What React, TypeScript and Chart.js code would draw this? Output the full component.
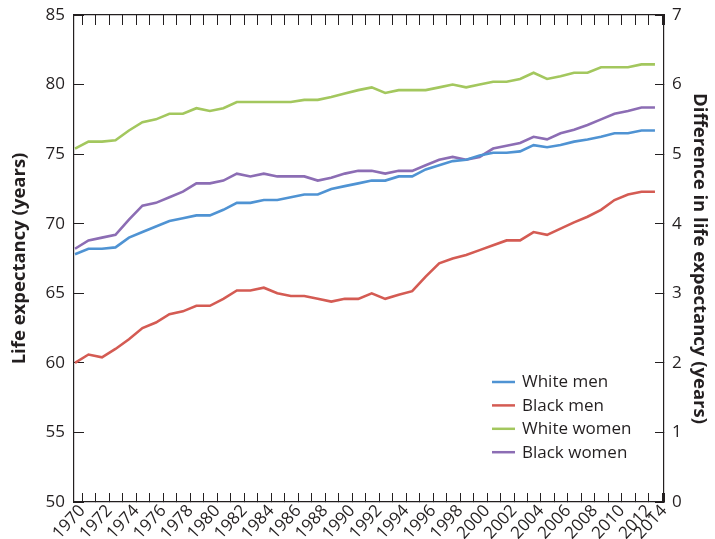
import React, { useEffect, useRef } from 'react';
import { Chart, registerables } from 'chart.js';

Chart.register(...registerables);

// ---- data ----
const years = [
  1970, 1971, 1972, 1973, 1974, 1975, 1976, 1977, 1978, 1979,
  1980, 1981, 1982, 1983, 1984, 1985, 1986, 1987, 1988, 1989,
  1990, 1991, 1992, 1993, 1994, 1995, 1996, 1997, 1998, 1999,
  2000, 2001, 2002, 2003, 2004, 2005, 2006, 2007, 2008, 2009,
  2010, 2011, 2012, 2013,
];

const whiteMen = [
  67.8, 68.2, 68.2, 68.3, 69.0, 69.4, 69.8, 70.2, 70.4, 70.6,
  70.6, 71.0, 71.5, 71.5, 71.7, 71.7, 71.9, 72.1, 72.1, 72.5,
  72.7, 72.9, 73.1, 73.1, 73.4, 73.4, 73.9, 74.2, 74.5, 74.6,
  74.9, 75.1, 75.1, 75.2, 75.65, 75.5, 75.65, 75.9, 76.05, 76.25,
  76.5, 76.5, 76.7, 76.7,
];

const blackMen = [
  60.0, 60.6, 60.4, 61.0, 61.7, 62.5, 62.9, 63.5, 63.7, 64.1,
  64.1, 64.6, 65.2, 65.2, 65.4, 65.0, 64.8, 64.8, 64.6, 64.4,
  64.6, 64.6, 65.0, 64.6, 64.9, 65.15, 66.2, 67.15, 67.5, 67.75,
  68.1, 68.45, 68.8, 68.8, 69.4, 69.2, 69.65, 70.1, 70.5, 71.0,
  71.7, 72.1, 72.3, 72.3,
];

const whiteWomen = [
  75.4, 75.9, 75.9, 76.0, 76.7, 77.3, 77.5, 77.9, 77.9, 78.3,
  78.1, 78.3, 78.75, 78.75, 78.75, 78.75, 78.75, 78.9, 78.9, 79.1,
  79.35, 79.6, 79.8, 79.4, 79.6, 79.6, 79.6, 79.8, 80.0, 79.8,
  80.0, 80.2, 80.2, 80.4, 80.85, 80.4, 80.6, 80.85, 80.85, 81.25,
  81.25, 81.25, 81.45, 81.45,
];

const blackWomen = [
  68.2, 68.8, 69.0, 69.2, 70.3, 71.3, 71.5, 71.9, 72.3, 72.9,
  72.9, 73.1, 73.6, 73.4, 73.6, 73.4, 73.4, 73.4, 73.1, 73.3,
  73.6, 73.8, 73.8, 73.6, 73.8, 73.8, 74.2, 74.6, 74.8, 74.6,
  74.8, 75.4, 75.6, 75.8, 76.25, 76.06, 76.5, 76.75, 77.1, 77.5,
  77.9, 78.1, 78.35, 78.35,
];

const seriesNames = ['White men', 'Black men', 'White women', 'Black women'];
const seriesColors = ['#4f93d3', '#d45b53', '#a3c75e', '#8c6db4'];

const tickYears = years;
const lastTickLabel = '2014';

const leftTitle = 'Life expectancy (years)';
const rightTitle = 'Difference in life expectancy (years)';

// ---- style constants ----
const TEXT = '#231f20';
const FONT = "'Open Sans', 'Noto Sans', sans-serif";
const X_MIN = 1969.926;
const X_MAX = 2013.67;
const TICK_SHIFT = 0.55;

const legendPlugin = {
  id: 'insideLegend',
  afterDraw(chart: any) {
    const { ctx } = chart;
    ctx.save();
    ctx.font = `17px ${FONT}`;
    ctx.textBaseline = 'middle';
    ctx.textAlign = 'left';
    chart.data.datasets.forEach((ds: any, i: number) => {
      const y = 382 + i * 23.4;
      ctx.strokeStyle = ds.borderColor;
      ctx.lineWidth = 2.5;
      ctx.beginPath();
      ctx.moveTo(492, y);
      ctx.lineTo(515, y);
      ctx.stroke();
      ctx.fillStyle = TEXT;
      ctx.fillText(ds.label, 522, y + 0.5);
    });
    ctx.restore();
  },
};

function buildXTicks(scale: any) {
  scale.ticks = tickYears
    .map((y) => ({ value: y + TICK_SHIFT }))
    .concat([{ value: X_MAX }]);
}

function xLabel(_v: any, index: number) {
  if (index < tickYears.length) {
    const y = tickYears[index];
    return y % 2 === 0 ? String(y) : '';
  }
  return lastTickLabel;
}

function fixH(h: number) {
  return (s: any) => {
    s.height = h;
    s.paddingLeft = 0;
    s.paddingRight = 0;
    s.paddingTop = 0;
    s.paddingBottom = 0;
  };
}

function fixW(w: number) {
  return (s: any) => {
    s.width = w;
    s.paddingLeft = 0;
    s.paddingRight = 0;
    s.paddingTop = 0;
    s.paddingBottom = 0;
  };
}

export default function App() {
  const canvasRef = useRef<HTMLCanvasElement | null>(null);

  useEffect(() => {
    if (!canvasRef.current) return;
    const all = [whiteMen, blackMen, whiteWomen, blackWomen];
    const chart = new Chart(canvasRef.current, {
      type: 'line',
      data: {
        datasets: all.map((vals, i) => ({
          label: seriesNames[i],
          data: years.map((yr, j) => ({ x: yr, y: vals[j] })),
          borderColor: seriesColors[i],
          backgroundColor: seriesColors[i],
          borderWidth: 2.6,
          pointRadius: 0,
          tension: 0,
          yAxisID: 'y',
          xAxisID: 'x',
        })),
      },
      options: {
        animation: false,
        responsive: true,
        maintainAspectRatio: false,
        layout: { padding: 0 },
        plugins: {
          legend: { display: false },
          tooltip: { enabled: false },
        },
        scales: {
          x: {
            type: 'linear',
            position: 'bottom',
            min: X_MIN,
            max: X_MAX,
            afterBuildTicks: buildXTicks,
            afterFit: fixH(37),
            grid: {
              drawOnChartArea: false,
              tickLength: -9,
              color: TEXT,
              lineWidth: 1,
            },
            border: { display: true, color: TEXT, width: 1.2 },
            ticks: {
              autoSkip: false,
              minRotation: 47,
              maxRotation: 47,
              padding: 8,
              color: TEXT,
              font: { family: FONT, size: 17 },
              callback: xLabel,
            },
          },
          x2: {
            type: 'linear',
            position: 'top',
            min: X_MIN,
            max: X_MAX,
            afterBuildTicks: buildXTicks,
            afterFit: fixH(15),
            grid: {
              drawOnChartArea: false,
              tickLength: -10,
              color: TEXT,
              lineWidth: 1,
            },
            border: { display: true, color: TEXT, width: 1.2 },
            ticks: { display: false, autoSkip: false },
          },
          y: {
            type: 'linear',
            position: 'left',
            min: 50,
            max: 85,
            afterFit: fixW(74),
            grid: {
              drawOnChartArea: false,
              tickLength: -10,
              color: TEXT,
              lineWidth: 1,
            },
            border: { display: true, color: TEXT, width: 1.2 },
            ticks: {
              stepSize: 5,
              padding: 19,
              color: TEXT,
              font: { family: FONT, size: 17 },
            },
            title: {
              display: true,
              text: leftTitle,
              color: TEXT,
              font: { family: FONT, size: 18.5, weight: 'bold' },
              padding: { top: 9, bottom: 0 },
            },
          },
          y2: {
            type: 'linear',
            position: 'right',
            min: 0,
            max: 7,
            afterFit: fixW(51),
            grid: {
              drawOnChartArea: false,
              tickLength: -9,
              color: TEXT,
              lineWidth: 1,
            },
            border: { display: true, color: TEXT, width: 1.2 },
            ticks: {
              stepSize: 1,
              padding: 17,
              color: TEXT,
              font: { family: FONT, size: 17 },
            },
            title: {
              display: true,
              text: rightTitle,
              color: TEXT,
              font: { family: FONT, size: 18.5, weight: 'bold' },
              padding: { top: 5, bottom: 0 },
            },
          },
        },
      },
      plugins: [legendPlugin],
    });
    return () => chart.destroy();
  }, []);

  return (
    <div style={{ position: 'fixed', left: 0, top: 0, width: 715, height: 539, background: '#fff' }}>
      <canvas ref={canvasRef} />
    </div>
  );
}
